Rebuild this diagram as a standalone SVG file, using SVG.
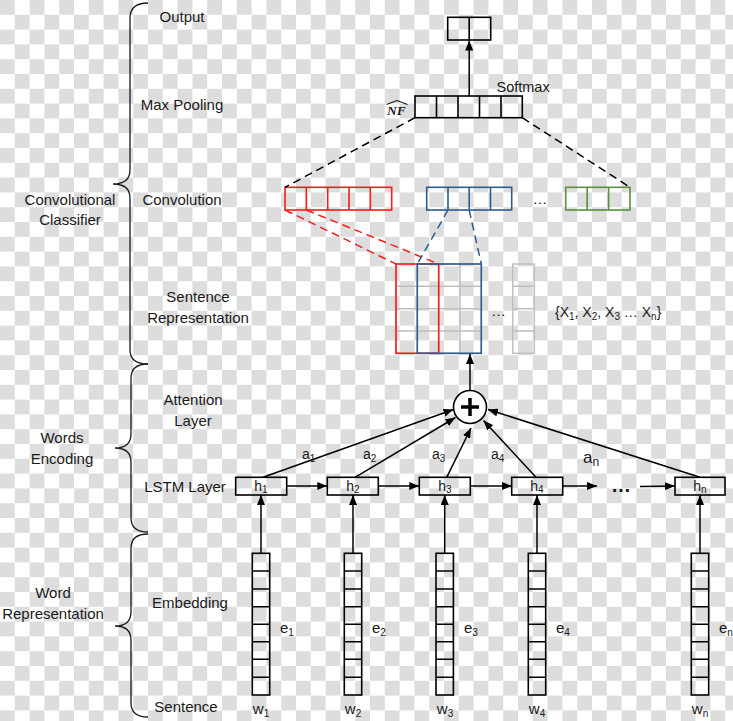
<svg xmlns="http://www.w3.org/2000/svg" width="733" height="721" viewBox="0 0 733 721">
<defs>
<pattern id="checker" patternUnits="userSpaceOnUse" width="29.6" height="29.6">
<rect x="0" y="0" width="29.6" height="29.6" fill="#ffffff"/>
<rect x="0" y="0" width="14.8" height="14.8" fill="#dddddd"/>
<rect x="14.8" y="14.8" width="14.8" height="14.8" fill="#dddddd"/>
</pattern>
<marker id="ah" markerUnits="userSpaceOnUse" markerWidth="10" markerHeight="8" refX="10" refY="4" orient="auto">
<path d="M0,0 L10,4 L0,8 z" fill="#000"/>
</marker>
<style>
text{font-family:"Liberation Sans",Arial,sans-serif;fill:#1a1a1a;}
.lbl{font-size:15px;text-anchor:middle;}
.sm{font-size:14px;}
.sub{font-size:10px;}
.box{fill:none;stroke:#000;stroke-width:1.6;}
.cell{fill:none;stroke:#000;stroke-width:1.6;}
.brace{fill:none;stroke:#1a1a1a;stroke-width:1.3;}
.conn{fill:none;stroke:#000;stroke-width:1.5;}
.arr{fill:none;stroke:#000;stroke-width:1.5;marker-end:url(#ah);}
.dash{fill:none;stroke-width:1.5;stroke-dasharray:8 5;}
.grid{fill:none;stroke:#bfbfbf;stroke-width:1.5;}
.red{stroke:#ff1a1a;}
.blue{stroke:#2e5c8e;}
.green{stroke:#5b8f3e;}
</style>
</defs>
<rect x="0" y="0" width="733" height="721" fill="url(#checker)"/>

<g id="braces">
<path class="brace" d="M148,3 Q130,3 130,18 L130,170 Q130,184 113,184 Q130,184 130,198 L130,350 Q130,364 148,364"/>
<path class="brace" d="M148,364 Q131,364 131,378 L131,434 Q131,448 115,448 Q131,448 131,462 L131,518 Q131,532 148,532"/>
<path class="brace" d="M148,534 Q131,534 131,548 L131,612 Q131,626 115,626 Q131,626 131,640 L131,703 Q131,717 148,717"/>
</g>

<g id="left-labels">
<text class="lbl" x="70" y="205">Convolutional</text>
<text class="lbl" x="70" y="225">Classifier</text>
<text class="lbl" x="62" y="443">Words</text>
<text class="lbl" x="62" y="464">Encoding</text>
<text class="lbl" x="53" y="598">Word</text>
<text class="lbl" x="53" y="619">Representation</text>
</g>

<g id="layer-labels">
<text class="lbl" x="182" y="22">Output</text>
<text class="lbl" x="182" y="110">Max Pooling</text>
<text class="lbl" x="182" y="205">Convolution</text>
<text class="lbl" x="198" y="302">Sentence</text>
<text class="lbl" x="198" y="323">Representation</text>
<text class="lbl" x="193" y="405">Attention</text>
<text class="lbl" x="193" y="426">Layer</text>
<text class="lbl" x="185" y="492">LSTM Layer</text>
<text class="lbl" x="190" y="608">Embedding</text>
<text class="lbl" x="186" y="712">Sentence</text>
</g>

<g id="output">
<rect class="box" x="447.7" y="17.3" width="43" height="22.7"/>
<line class="cell" x1="469.2" y1="17.3" x2="469.2" y2="40"/>
</g>

<g id="maxpool">
<rect class="box" x="415" y="96" width="107.3" height="21.7"/>
<path class="cell" d="M436.5,96V117.7M458,96V117.7M479.5,96V117.7M501,96V117.7"/>
<text x="496.5" y="92" style="font-size:14.5px">Softmax</text>
<text x="387" y="115" style="font-family:'Liberation Serif','Times New Roman',serif;font-style:italic;font-weight:bold;font-size:13.5px">NF</text>
<path d="M386.5,104.5 L397,100.5 L407.5,104.5" fill="none" stroke="#000" stroke-width="1"/>
</g>

<g id="conv-red">
<rect class="box red" x="285" y="187.3" width="106.7" height="22.7"/>
<path class="cell red" d="M306.3,187.3V210M327.7,187.3V210M349,187.3V210M370.3,187.3V210"/>
</g>
<g id="conv-blue">
<rect class="box blue" x="426.7" y="187.3" width="85" height="22.7"/>
<path class="cell blue" d="M448,187.3V210M469.2,187.3V210M490.5,187.3V210"/>
</g>
<text x="540" y="204" style="font-size:15px;text-anchor:middle">…</text>
<g id="conv-green">
<rect class="box green" x="565.7" y="187.3" width="64.3" height="22.7"/>
<path class="cell green" d="M587.2,187.3V210M608.6,187.3V210"/>
</g>

<g id="sentence-matrix">
<rect class="grid" x="396" y="264" width="85.3" height="89.3"/>
<path class="grid" d="M417.3,264V353.3M438.7,264V353.3M460,264V353.3M396,286.3H481.3M396,308.7H481.3M396,331H481.3"/>
<rect class="box red" x="396" y="264" width="42.7" height="89.3"/>
<rect class="box blue" x="417.3" y="264" width="64" height="89.3"/>
<text x="498.5" y="316" style="font-size:15px;text-anchor:middle">…</text>
<rect class="grid" x="512.7" y="264" width="21.6" height="89.3"/>
<path class="grid" d="M512.7,286.3H534.3M512.7,308.7H534.3M512.7,331H534.3"/>
<text x="555" y="317" style="font-size:14px">{X<tspan class="sub" dy="3">1</tspan><tspan dy="-3">, X</tspan><tspan class="sub" dy="3">2</tspan><tspan dy="-3">, X</tspan><tspan class="sub" dy="3">3</tspan><tspan dy="-3"> … X</tspan><tspan class="sub" dy="3">n</tspan><tspan dy="-3">}</tspan></text>
</g>

<g id="attention">
<circle cx="470" cy="407" r="16.5" fill="#fff" stroke="#000" stroke-width="1.6"/>
<path d="M461,407H479M470,398V416" stroke="#000" stroke-width="3.5" fill="none"/>
</g>

<g id="lstm">
<rect class="box" x="235.7" y="477.3" width="51" height="17.7"/>
<text class="sm" x="261" y="491" text-anchor="middle">h<tspan class="sub" dy="2">1</tspan></text>
<rect class="box" x="327.3" y="477.3" width="51" height="17.7"/>
<text class="sm" x="353" y="491" text-anchor="middle">h<tspan class="sub" dy="2">2</tspan></text>
<rect class="box" x="419.3" y="477.3" width="51" height="17.7"/>
<text class="sm" x="445" y="491" text-anchor="middle">h<tspan class="sub" dy="2">3</tspan></text>
<rect class="box" x="511.7" y="477.3" width="51" height="17.7"/>
<text class="sm" x="537" y="491" text-anchor="middle">h<tspan class="sub" dy="2">4</tspan></text>
<rect class="box" x="675" y="477.3" width="50" height="17.7"/>
<text class="sm" x="700" y="491" text-anchor="middle">h<tspan class="sub" dy="2">n</tspan></text>
<text x="621" y="492" style="font-size:20px;font-weight:bold;text-anchor:middle">…</text>
</g>

<g id="embeddings">
<g id="emb1"><rect class="box" x="252.3" y="553.3" width="17.4" height="141.7"/><path class="cell" d="M252.3,571H269.7M252.3,589H269.7M252.3,606.7H269.7M252.3,624.3H269.7M252.3,641.7H269.7M252.3,659.3H269.7M252.3,677.3H269.7"/></g>
<g id="emb2"><rect class="box" x="344.3" y="553.3" width="17.4" height="141.7"/><path class="cell" d="M344.3,571H361.7M344.3,589H361.7M344.3,606.7H361.7M344.3,624.3H361.7M344.3,641.7H361.7M344.3,659.3H361.7M344.3,677.3H361.7"/></g>
<g id="emb3"><rect class="box" x="436" y="553.3" width="17.4" height="141.7"/><path class="cell" d="M436,571H453.4M436,589H453.4M436,606.7H453.4M436,624.3H453.4M436,641.7H453.4M436,659.3H453.4M436,677.3H453.4"/></g>
<g id="emb4"><rect class="box" x="528.3" y="553.3" width="17.4" height="141.7"/><path class="cell" d="M528.3,571H545.7M528.3,589H545.7M528.3,606.7H545.7M528.3,624.3H545.7M528.3,641.7H545.7M528.3,659.3H545.7M528.3,677.3H545.7"/></g>
<g id="embn"><rect class="box" x="691.3" y="553.3" width="17.4" height="141.7"/><path class="cell" d="M691.3,571H708.7M691.3,589H708.7M691.3,606.7H708.7M691.3,624.3H708.7M691.3,641.7H708.7M691.3,659.3H708.7M691.3,677.3H708.7"/></g>
<text x="280" y="633" style="font-size:15px">e<tspan class="sub" dy="3">1</tspan></text>
<text x="372" y="633" style="font-size:15px">e<tspan class="sub" dy="3">2</tspan></text>
<text x="464" y="633" style="font-size:15px">e<tspan class="sub" dy="3">3</tspan></text>
<text x="556" y="633" style="font-size:15px">e<tspan class="sub" dy="3">4</tspan></text>
<text x="719" y="633" style="font-size:15px">e<tspan class="sub" dy="3">n</tspan></text>
</g>

<g id="words">
<text x="261" y="714" style="font-size:15px;text-anchor:middle">w<tspan class="sub" dy="3">1</tspan></text>
<text x="353" y="714" style="font-size:15px;text-anchor:middle">w<tspan class="sub" dy="3">2</tspan></text>
<text x="445" y="714" style="font-size:15px;text-anchor:middle">w<tspan class="sub" dy="3">3</tspan></text>
<text x="537" y="714" style="font-size:15px;text-anchor:middle">w<tspan class="sub" dy="3">4</tspan></text>
<text x="700" y="714" style="font-size:15px;text-anchor:middle">w<tspan class="sub" dy="3">n</tspan></text>
</g>

<g id="attention-labels">
<text x="302" y="459" style="font-size:14px">a<tspan class="sub" dy="3">1</tspan></text>
<text x="363" y="459" style="font-size:14px">a<tspan class="sub" dy="3">2</tspan></text>
<text x="432" y="459" style="font-size:14px">a<tspan class="sub" dy="3">3</tspan></text>
<text x="491" y="459" style="font-size:14px">a<tspan class="sub" dy="3">4</tspan></text>
<text x="583" y="463" style="font-size:17px">a<tspan style="font-size:12px" dy="3">n</tspan></text>
</g>

<g id="connectors">
<line class="arr" x1="469.2" y1="96" x2="469.2" y2="40.5"/>
<line class="dash" stroke="#000" x1="415" y1="117.7" x2="285" y2="187.3"/>
<line class="dash" stroke="#000" x1="522.3" y1="117.7" x2="630" y2="187.3"/>
<line class="dash red" x1="285" y1="210" x2="396" y2="264"/>
<line class="dash red" x1="306.3" y1="210" x2="438.7" y2="264"/>
<line class="dash blue" x1="448" y1="210" x2="417.3" y2="264"/>
<line class="dash blue" x1="469.2" y1="210" x2="481.3" y2="264"/>
<line class="arr" x1="470" y1="390.5" x2="470" y2="354"/>
<line class="arr" x1="263" y1="477.3" x2="453.5" y2="409.5"/>
<line class="arr" x1="355" y1="477.3" x2="455.5" y2="417.5"/>
<line class="arr" x1="446.7" y1="477.3" x2="471" y2="428"/>
<line class="arr" x1="536" y1="477.3" x2="483.5" y2="420.5"/>
<line class="arr" x1="700" y1="477.3" x2="488" y2="409.5"/>
<line class="arr" x1="286.7" y1="486" x2="327.3" y2="486"/>
<line class="arr" x1="378.3" y1="486" x2="419.3" y2="486"/>
<line class="arr" x1="470.7" y1="486" x2="511.7" y2="486"/>
<line class="arr" x1="562.7" y1="486" x2="597" y2="486"/>
<line class="arr" x1="640" y1="486.5" x2="675" y2="486"/>
<line class="arr" x1="261" y1="553.3" x2="261" y2="495"/>
<line class="arr" x1="353" y1="553.3" x2="353" y2="495"/>
<line class="arr" x1="444.7" y1="553.3" x2="444.7" y2="495"/>
<line class="arr" x1="537" y1="553.3" x2="537" y2="495"/>
<line class="arr" x1="700" y1="553.3" x2="700" y2="495"/>
</g>
</svg>
